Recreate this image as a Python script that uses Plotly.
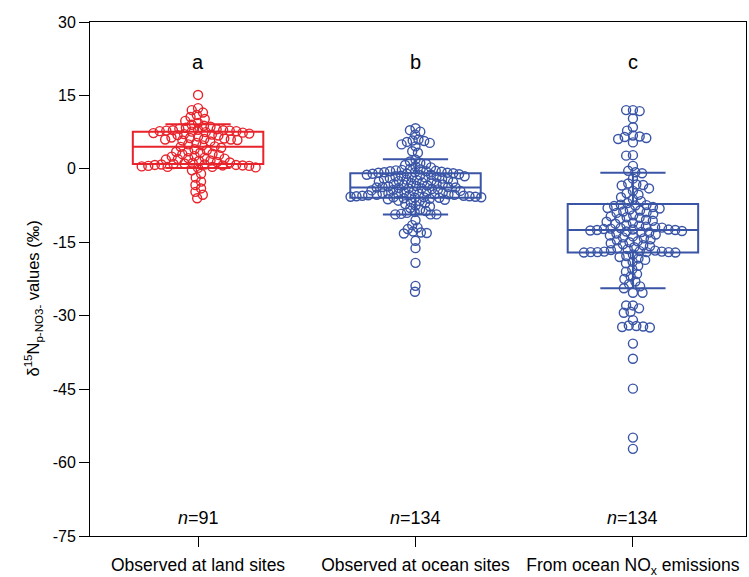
import math
import plotly.graph_objects as go

# ---------------- data ----------------
categories = ["Observed at land sites", "Observed at ocean sites", "From ocean NO<sub>x</sub> emissions"]
group_letters = ["a", "b", "c"]
n_labels = ["<i>n</i>=91", "<i>n</i>=134", "<i>n</i>=134"]
y_ticks = [30, 15, 0, -15, -30, -45, -60, -75]
y_tick_labels = ["30", "15", "0", "-15", "-30", "-45", "-60", "-75"]

land_values = [15.1, 12.4, 12.0, 11.5, 11.0, 10.6, 10.2, 9.8, 9.4,
               9.0, 8.8, 8.6, 8.4, 8.2, 8.1, 8.0, 7.9, 7.9, 7.8, 7.8, 7.7, 7.7, 7.6,
               7.5, 7.4, 7.3, 7.2, 7.1, 7.0, 6.9, 6.8, 6.6, 6.4, 6.3, 6.2, 6.1, 6.0, 6.0, 5.9, 5.8, 5.6, 5.3, 5.0, 4.8, 4.6,
               4.5,
               4.3, 4.0, 3.8, 3.6, 3.5, 3.3, 3.1, 3.0, 2.8, 2.6, 2.5, 2.3, 2.2, 2.1, 2.0, 1.9, 1.7, 1.6, 1.4, 1.3, 1.2, 1.1,
               1.0, 0.9, 0.9, 0.8, 0.8, 0.7, 0.7, 0.6, 0.6, 0.5, 0.4, 0.4, 0.3, 0.2,
               -0.3, -1.0, -1.8, -2.6, -3.3, -4.0, -4.7, -5.3, -6.0]

ocean_values = [8.3, 7.9, 7.6, 7.0, 6.0, 5.8, 5.7, 5.5, 5.3, 5.0, 4.6, 3.6, 3.3,
                1.9, 1.5, 1.2, 1.0, 0.8, 0.5, 0.3, 0.0, -0.1, -0.2, -0.3, -0.4, -0.5, -0.5, -0.6, -0.7, -0.7, -0.8, -0.8, -0.9,
                -1.0, -1.0, -1.1, -1.2, -1.2, -1.3, -1.4, -1.5, -1.5, -1.6, -1.7, -1.8, -1.9, -2.0, -2.0, -2.1, -2.2, -2.3,
                -2.4, -2.5, -2.6, -2.7, -2.8, -2.9, -3.0, -3.1, -3.2, -3.3, -3.4, -3.5, -3.6, -3.7, -3.7,
                -3.8, -3.8,
                -3.9, -4.0, -4.0, -4.1, -4.2, -4.3, -4.4, -4.5, -4.6, -4.7, -4.8, -4.9, -5.0, -5.0, -5.1, -5.1, -5.2, -5.2,
                -5.3, -5.3, -5.4, -5.4, -5.5, -5.5, -5.6, -5.6, -5.7, -5.7, -5.8, -5.8, -5.8, -5.9, -5.9,
                -6.0, -6.1, -6.2, -6.3, -6.5, -6.6, -6.8, -7.0, -7.2, -7.5, -7.7, -8.0, -8.3, -8.6, -8.8, -9.0, -9.2, -9.3, -9.3, -9.3,
                -10.5, -11.5, -12.0, -12.3, -12.8, -13.0, -13.1, -13.2, -14.7, -16.2, -19.2, -23.9, -25.1]

emission_values = [12.0, 12.0, 11.8, 10.3, 8.5, 7.8, 6.8, 6.6, 6.5, 6.3, 6.1, 5.4, 2.8,
                   2.7, 0.6, -0.4, -0.7, -0.9, -2.0, -3.0, -3.2, -3.3, -3.4, -4.0, -4.5, -5.0, -5.3, -5.8, -6.2, -6.6, -7.0,
                   -7.3, -7.4, -7.5, -7.6, -7.8, -8.0, -8.1, -8.3, -8.5, -8.7, -8.9, -9.0, -9.2, -9.5, -9.7, -9.9, -10.0,
                   -10.2, -10.4, -10.6, -10.8, -11.0, -11.2, -11.4, -11.6, -11.8, -11.9, -12.0, -12.1, -12.2, -12.3, -12.4, -12.4,
                   -12.5, -12.5,
                   -12.6, -12.7, -12.8, -12.9, -13.0, -13.2, -13.4, -13.6, -13.8, -14.0, -14.2, -14.4, -14.6, -14.8, -15.0,
                   -15.2, -15.4, -15.6, -15.8, -16.0, -16.2, -16.4, -16.6, -16.7, -16.8, -16.9, -16.9, -17.0, -17.0, -17.0,
                   -17.0, -17.1, -17.1,
                   -17.5, -17.8, -18.0, -18.3, -18.6, -19.0, -19.3, -19.8, -20.5, -21.0, -21.5, -22.0, -22.5, -23.0, -23.5, -24.0, -24.4,
                   -25.3, -25.3, -27.9, -27.9, -28.5, -29.2, -29.4, -30.9, -32.0, -32.1, -32.2, -32.3, -32.4, -35.7, -38.8,
                   -44.9, -54.9, -57.2]

# box statistics (whiskers = 10th / 90th percentiles)
box_q1 = [1.0, -5.9, -17.1]
box_median = [4.5, -3.8, -12.5]
box_q3 = [7.6, -0.9, -7.2]
box_p10 = [0.2, -9.3, -24.4]
box_p90 = [9.1, 1.95, -0.8]

colors = ["#e8232b", "#3a55a6", "#3a55a6"]
groups = [land_values, ocean_values, emission_values]
swarm_spacing = [6.6, 5.9, 6.8]

# ---------------- layout constants ----------------
W, H = 749, 577
ML, MR, MT, MB = 90, 3, 22, 41
XR = [-0.497, 2.52]
YR = [-75, 30]
xscale = (W - ML - MR) / (XR[1] - XR[0])
yscale = (H - MT - MB) / (YR[1] - YR[0])
FONT_TXT = "Liberation Sans, Arial, sans-serif"


def swarm(vals, d):
    ys = [v * yscale for v in vals]
    order = sorted(range(len(vals)), key=lambda i: -ys[i])
    placed = []
    xs = [0.0] * len(vals)
    for i in order:
        y = ys[i]
        near = [(px, py) for px, py in placed if abs(py - y) < d]
        cands = [0.0]
        for px, py in near:
            dx = math.sqrt(max(d * d - (py - y) ** 2, 0))
            cands += [px + dx, px - dx]
        cands.sort(key=lambda c: (abs(c), c))
        for c in cands:
            if all((c - px) ** 2 + (y - py) ** 2 >= d * d - 1e-6 for px, py in near):
                xs[i] = c
                break
        placed.append((xs[i], y))
    return [x / xscale for x in xs]


fig = go.Figure()

for k, vals in enumerate(groups):
    offs = swarm(vals, swarm_spacing[k])
    fig.add_trace(go.Scatter(
        x=[k + o for o in offs], y=vals, mode="markers",
        marker=dict(symbol="circle-open", size=9, color=colors[k], line=dict(width=1.4, color=colors[k])),
        showlegend=False, hoverinfo="y"))

for k in range(3):
    fig.add_trace(go.Box(
        x=[k], q1=[box_q1[k]], median=[box_median[k]], q3=[box_q3[k]],
        lowerfence=[box_p10[k]], upperfence=[box_p90[k]],
        width=0.6, whiskerwidth=0.5, boxpoints=False,
        fillcolor="rgba(0,0,0,0)", line=dict(color=colors[k], width=2),
        showlegend=False))

for k in range(3):
    fig.add_annotation(x=k, y=21.8, text=group_letters[k], showarrow=False,
                       font=dict(size=20, color="black", family=FONT_TXT),
                       xanchor="center", yanchor="middle")
    fig.add_annotation(x=k, y=-71.4, text=n_labels[k], showarrow=False,
                       font=dict(size=18, color="black", family=FONT_TXT),
                       xanchor="center", yanchor="middle")

fig.add_annotation(xref="paper", yref="paper", x=(33 - ML) / (W - ML - MR), y=0.462,
                   text="δ<sup>15</sup>N<sub>p-NO3-</sub> values (‰)", textangle=-90, showarrow=False,
                   font=dict(size=16.5, color="black", family=FONT_TXT),
                   xanchor="center", yanchor="middle")

fig.update_layout(
    width=W, height=H,
    margin=dict(l=ML, r=MR, t=MT, b=MB),
    paper_bgcolor="white", plot_bgcolor="white",
    showlegend=False,
    xaxis=dict(range=XR, tickmode="array", tickvals=[0, 1, 2], ticktext=categories,
               ticks="outside", ticklen=10, tickcolor="black", showgrid=False, zeroline=False,
               showline=True, linecolor="black", linewidth=1, mirror=True,
               ticklabelstandoff=3, automargin=False,
               tickfont=dict(size=17.5, color="black", family=FONT_TXT)),
    yaxis=dict(range=YR, tickmode="array", tickvals=y_ticks, ticktext=y_tick_labels,
               ticks="outside", ticklen=10, tickcolor="black", showgrid=False, zeroline=False,
               showline=True, linecolor="black", linewidth=1, mirror=True, automargin=False,
               tickfont=dict(size=16, color="black", family=FONT_TXT)),
)

fig.write_html("out.html", config={"displayModeBar": False},
               post_script="document.body.style.margin='0';document.body.style.padding='0';")
